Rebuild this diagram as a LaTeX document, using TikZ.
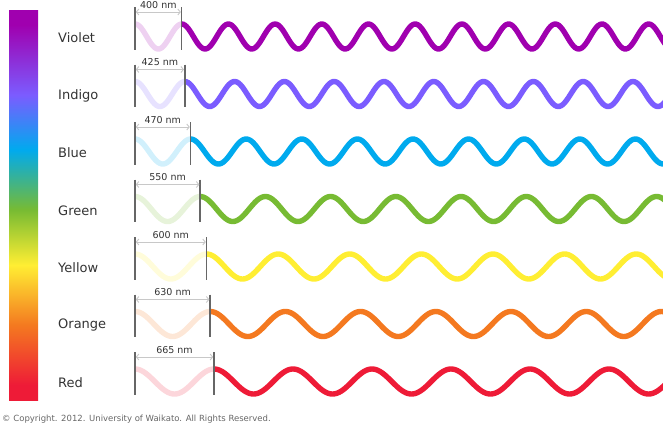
\documentclass[tikz,border=0pt]{standalone}
\usepackage{fontspec}
\setmainfont{DejaVu Sans}
\usetikzlibrary{arrows.meta}
\definecolor{cviolet}{HTML}{A000AF}
\definecolor{cindigo}{HTML}{7B5CFF}
\definecolor{cblue}{HTML}{00AAEE}
\definecolor{cgreen}{HTML}{77BB33}
\definecolor{cyellow}{HTML}{FFEE33}
\definecolor{corange}{HTML}{F47920}
\definecolor{cred}{HTML}{EE1B37}
\definecolor{ctext}{HTML}{333333}
\definecolor{cbar}{HTML}{666666}
\definecolor{cdim}{HTML}{C8C8C8}
\pgfdeclareverticalshading{spectrum}{100bp}{color(0bp)=(cred); color(26.9bp)=(cred); color(34.6bp)=(corange); color(42.3bp)=(cyellow); color(49.4bp)=(cgreen); color(57.1bp)=(cblue); color(64.1bp)=(cindigo); color(73.1bp)=(cviolet); color(100bp)=(cviolet)}
\tikzset{
  rowlabel/.style={anchor=west, inner sep=0pt, text=ctext, font=\fontsize{13}{15}\selectfont},
  dimlabel/.style={inner sep=0pt, text=ctext, font=\fontsize{9.5}{11}\selectfont},
  dimarrow/.style={draw=cdim, line width=0.9pt, arrows={Straight Barb[length=2.5pt,width=6pt]-Straight Barb[length=2.5pt,width=6pt]}},
  barline/.style={draw=cbar, line width=1.5pt},
  wave/.style={line width=5.4pt},
}
\begin{document}
\begin{tikzpicture}[x=1pt,y=-1pt]
\useasboundingbox (0,0) rectangle (663,426);
\shade[shading=spectrum] (9,10) rectangle (38,400);
\begin{scope}
\clip (0,0) rectangle (663,426);
\foreach \i/\nm/\lam/\lbl/\col in {0/400/46.7/Violet/cviolet, 1/425/49.8/Indigo/cindigo, 2/470/55.6/Blue/cblue, 3/550/65.2/Green/cgreen, 4/600/71.6/Yellow/cyellow, 5/630/75.2/Orange/corange, 6/665/79/Red/cred}{
  \pgfmathsetmacro\rt{7+57.5*\i}
  \pgfmathsetmacro\xr{135+\lam}
  \draw[wave, \col!18] plot[domain=135:\xr, samples=60, smooth] (\x, {\rt+29.5-12.5*cos(((\x-135)/\lam)*360)});
  \draw[wave, \col] plot[domain=\xr:672, samples=300, smooth] (\x, {\rt+29.5-12.5*cos(((\x-135)/\lam)*360)});
  \coordinate (bl\i t) at (135,\rt);
  \coordinate (bl\i b) at (135,\rt+42.5);
  \coordinate (br\i t) at (\xr,\rt);
  \coordinate (br\i b) at (\xr,\rt+42.5);
  \coordinate (da\i) at (135.8,\rt+5);
  \coordinate (db\i) at (\xr-0.8,\rt+5);
  \draw[barline] (bl\i t) -- (bl\i b);
  \draw[barline] (br\i t) -- (br\i b);
  \draw[dimarrow] (da\i) -- (db\i);
  \node[dimlabel] (dl\i) at ({(135+\xr)/2},\rt-2) {\nm\ nm};
  \node[rowlabel] (lab\i) at (58,\rt+31) {\lbl};
}
\end{scope}
\node[anchor=west, inner sep=0pt, text=cbar, font=\fontsize{8.5}{10}\selectfont] (copy) at (2,419.5) {© Copyright. 2012. University of Waikato. All Rights Reserved.};
\end{tikzpicture}
\end{document}
